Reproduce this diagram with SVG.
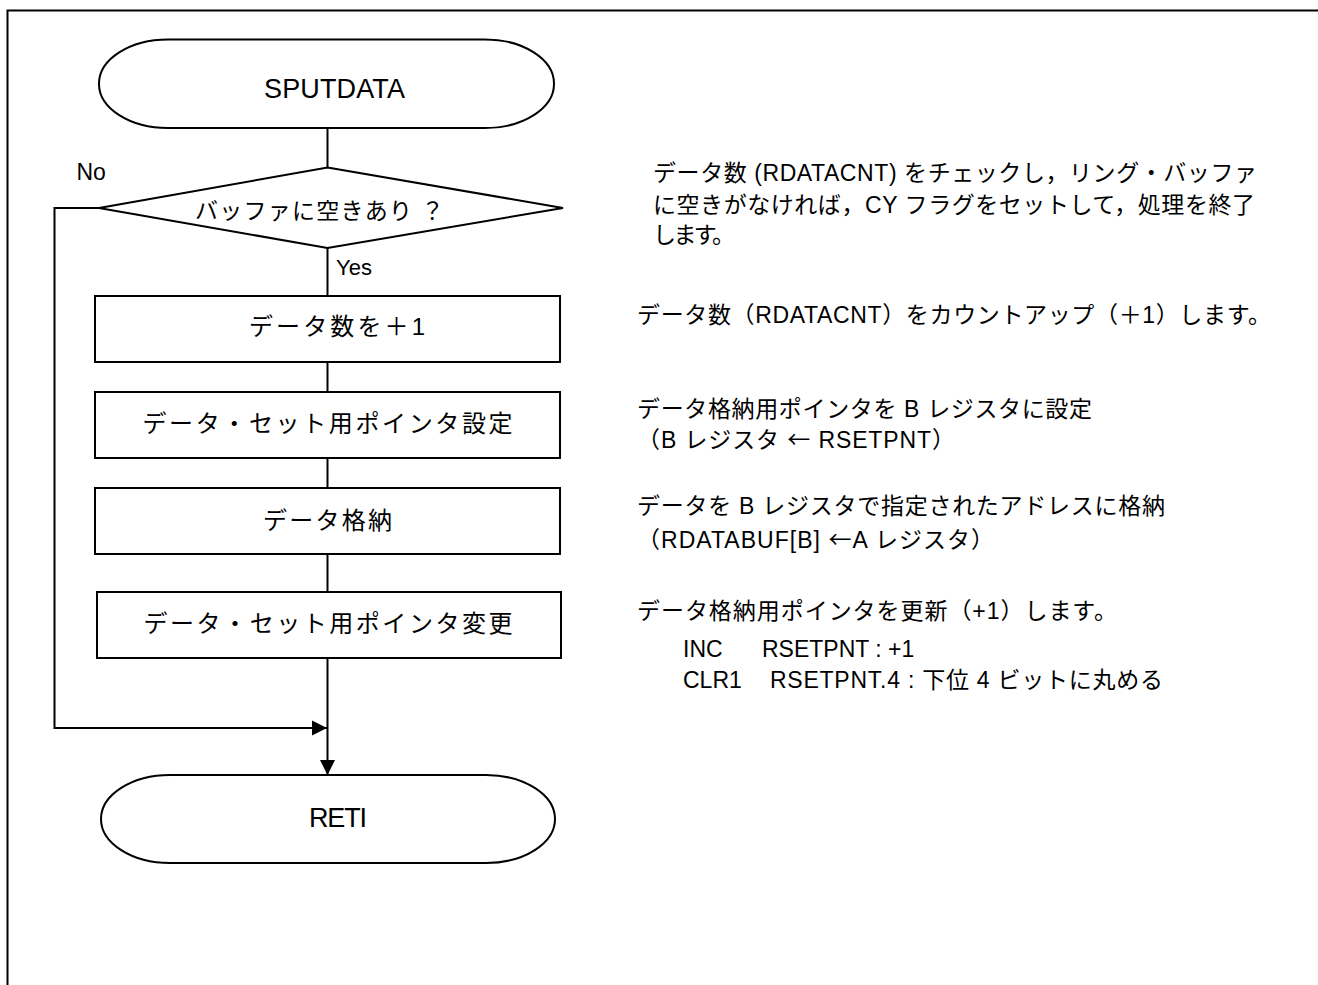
<svg xmlns="http://www.w3.org/2000/svg" width="1318" height="985" viewBox="0 0 1318 985">
<defs>
<style>
.ln{fill:none;stroke:#000;stroke-width:2}
.nd{fill:#fff;stroke:#000;stroke-width:2}
.t{font-family:"Liberation Sans","Noto Sans CJK JP",sans-serif;fill:#000}
.cj{font-family:"Noto Sans CJK JP",sans-serif}
.bx{font-size:24px}
.tm{font-size:27px}
.rt{font-size:23px}
</style>
<marker id="ah" markerUnits="userSpaceOnUse" markerWidth="16" markerHeight="16" viewBox="0 0 16 16" refX="15" refY="8" orient="auto">
<path d="M0,0.5 L15,8 L0,15.5 Z" fill="#000"/>
</marker>
</defs>
<rect x="0" y="0" width="1318" height="985" fill="#fff"/>
<rect x="7.5" y="10.5" width="1400" height="1100" class="ln"/>

<g id="connectors">
<line x1="327.5" y1="128" x2="327.5" y2="167.5" class="ln"/>
<line x1="327.5" y1="248" x2="327.5" y2="296" class="ln"/>
<line x1="327.5" y1="362" x2="327.5" y2="392" class="ln"/>
<line x1="327.5" y1="458" x2="327.5" y2="488" class="ln"/>
<line x1="327.5" y1="554" x2="327.5" y2="592" class="ln"/>
<line x1="327.5" y1="658" x2="327.5" y2="775" class="ln" marker-end="url(#ah)"/>
<polyline points="99,208 54.5,208 54.5,728 327,728" class="ln" marker-end="url(#ah)"/>
<text x="76.5" y="180" class="t rt">No</text>
<text x="336" y="275" class="t" font-size="22px">Yes</text>
</g>

<g id="start">
<rect x="99" y="39.5" width="455" height="88.5" rx="69" ry="44" class="nd"/>
<text x="264" y="98" class="t tm" textLength="141" lengthAdjust="spacing">SPUTDATA</text>
</g>

<g id="decision">
<polygon points="327.5,167.5 563,208 327.5,248 99,208" class="nd"/>
<text x="195" y="219" class="t rt" textLength="249" lengthAdjust="spacing">バッファに空きあり ？</text>
</g>

<g id="box1">
<rect x="95" y="296" width="465" height="66" class="nd"/>
<text x="249" y="335" class="t bx" textLength="176" lengthAdjust="spacing">データ数を＋1</text>
</g>

<g id="box2">
<rect x="95" y="392" width="465" height="66" class="nd"/>
<text x="142.5" y="432" class="t bx" textLength="370" lengthAdjust="spacing">データ・セット用ポインタ設定</text>
</g>

<g id="box3">
<rect x="95" y="488" width="465" height="66" class="nd"/>
<text x="263" y="529" class="t bx" textLength="129" lengthAdjust="spacing">データ格納</text>
</g>

<g id="box4">
<rect x="97" y="592" width="464" height="66" class="nd"/>
<text x="143.5" y="632" class="t bx" textLength="369" lengthAdjust="spacing">データ・セット用ポインタ変更</text>
</g>

<g id="end">
<rect x="101" y="775" width="454" height="88" rx="69" ry="44" class="nd"/>
<text x="309" y="827" class="t tm" textLength="58" lengthAdjust="spacing">RETI</text>
</g>

<g id="notes">
<text x="653" y="181" class="t rt" textLength="604" lengthAdjust="spacing">データ数 (RDATACNT) をチェックし，リング・バッファ</text>
<text x="653" y="213" class="t rt" textLength="602" lengthAdjust="spacing">に空きがなければ，CY フラグをセットして，処理を終了</text>
<text x="653" y="243" class="t rt" textLength="82" lengthAdjust="spacing">します。</text>
<text x="637" y="323" class="t rt" textLength="634" lengthAdjust="spacing">データ数（RDATACNT）をカウントアップ（＋1）します。</text>
<text x="637" y="417" class="t rt" textLength="455" lengthAdjust="spacing">データ格納用ポインタを B レジスタに設定</text>
<text x="637" y="448" class="t rt" textLength="318" lengthAdjust="spacing">（B レジスタ <tspan class="cj">←</tspan> RSETPNT）</text>
<text x="637" y="514" class="t rt" textLength="528" lengthAdjust="spacing">データを B レジスタで指定されたアドレスに格納</text>
<text x="637" y="548" class="t rt" textLength="357" lengthAdjust="spacing">（RDATABUF[B] <tspan class="cj">←</tspan>A レジスタ）</text>
<text x="637" y="619" class="t rt" textLength="480" lengthAdjust="spacing">データ格納用ポインタを更新（+1）します。</text>
<text x="683" y="657" class="t rt">INC</text>
<text x="762" y="657" class="t rt">RSETPNT : +1</text>
<text x="683" y="688" class="t rt">CLR1</text>
<text x="770" y="688" class="t rt" textLength="393" lengthAdjust="spacing">RSETPNT.4 : 下位 4 ビットに丸める</text>
</g>
</svg>
